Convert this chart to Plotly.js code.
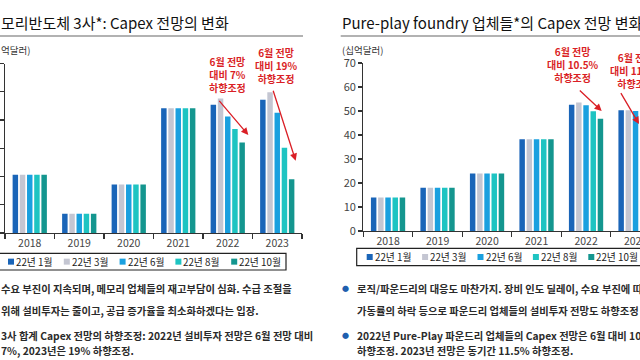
<!DOCTYPE html>
<html><head><meta charset="utf-8">
<script src="https://cdn.plot.ly/plotly-3.0.1.min.js"></script>
<style>html,body{margin:0;padding:0;background:#fff;}#chart{width:640px;height:360px;}</style>
</head><body><div id="chart"></div>
<script>
// ---- data ----
const years = ['2018','2019','2020','2021','2022','2023'];
const seriesNames = ['22년 1월','22년 3월','22년 6월','22년 8월','22년 10월'];
// memory 3 companies capex (십억달러)
const memJan = [50.3, 43.4, 48.6, 62.1, 62.7, 63.6];
const memMar = [50.3, 43.4, 48.6, 62.1, 63.8, 64.9];
const memJun = [50.3, 43.4, 48.6, 62.1, 60.6, 61.3];
const memAug = [50.3, 43.4, 48.6, 62.1, 58.4, 55.1];
const memOct = [50.3, 43.4, 48.6, 62.1, 56.0, 49.5];
// pure-play foundry capex (십억달러)
const fdyJan = [14.0, 18.0, 24.0, 38.2, 52.6, 50.3];
const fdyMar = [14.0, 18.0, 24.0, 38.2, 53.5, 50.3];
const fdyJun = [14.0, 18.0, 24.0, 38.2, 52.4, 50.0];
const fdyAug = [14.0, 18.0, 24.0, 38.2, 49.9, 47.0];
const fdyOct = [14.0, 18.0, 24.0, 38.2, 46.8, 44.3];
const memTicks = [40, 45, 50, 55, 60, 65, 70];
const fdyTicks = [0, 10, 20, 30, 40, 50, 60, 70];

const leftTitle = '모리반도체 3사*: Capex 전망의 변화';
const rightTitle = 'Pure-play foundry 업체들*의 Capex 전망 변화';
const leftUnit = '억달러)';
const rightUnit = '(십억달러)';
const leftNotes = ['6월 전망<br>대비 7%<br>하향조정', '6월 전망<br>대비 19%<br>하향조정'];
const rightNotes = ['6월 전망<br>대비 10.5%<br>하향조정', '6월 전망<br>대비 11.5%<br>하향조정'];
const leftBody = [
  '수요 부진이 지속되며, 메모리 업체들의 재고부담이 심화. 수급 조절을',
  '위해 설비투자는 줄이고, 공급 증가율을 최소화하겠다는 입장.',
  '3사 합계 Capex 전망의 하향조정: 2022년 설비투자 전망은 6월 전망 대비',
  '7%, 2023년은 19% 하향조정.'
];
const rightBody = [
  '로직/파운드리의 대응도 마찬가지. 장비 인도 딜레이, 수요 부진에 따른',
  '가동률의 하락 등으로 파운드리 업체들의 설비투자 전망도 하향조정',
  '2022년 Pure-Play 파운드리 업체들의 Capex 전망은 6월 대비 10.5%',
  '하향조정. 2023년 전망은 동기간 11.5% 하향조정.'
];

// ---- style ----
const colors = ['#1A65B8', '#C4C6D2', '#1AA0DF', '#1EC4C2', '#14968F'];
const RED = '#DA1F26';
const FONT = '"Noto Sans CJK KR", "Noto Sans", sans-serif';
const W = 640, H = 360;
const px = v => v / W, py = v => 1 - v / H;

const memSeries = [memJan, memMar, memJun, memAug, memOct];
const fdySeries = [fdyJan, fdyMar, fdyJun, fdyAug, fdyOct];

const traces = [];
seriesNames.forEach((name, i) => traces.push({
  type: 'bar', name, x: years, y: memSeries[i], xaxis: 'x', yaxis: 'y',
  marker: {color: colors[i]}, showlegend: false, hoverinfo: 'skip'
}));
seriesNames.forEach((name, i) => traces.push({
  type: 'bar', name, x: years, y: fdySeries[i], xaxis: 'x2', yaxis: 'y2',
  marker: {color: colors[i]}, showlegend: false, hoverinfo: 'skip'
}));

const axisCommon = {
  showline: true, linecolor: '#333', linewidth: 1.2, ticks: 'outside', tickcolor: '#333',
  tickwidth: 1.2, showgrid: false, zeroline: false, automargin: false, fixedrange: true
};
const xCommon = Object.assign({}, axisCommon, {
  type: 'category', tickson: 'boundaries', ticklen: 5,
  tickfont: {family: FONT, size: 10.5, color: '#444'}
});

const ann = [];
const shapes = [];
function txt(text, x, y, opts) {
  ann.push(Object.assign({xref: 'paper', yref: 'paper', x: px(x), y: py(y), text, showarrow: false,
    xanchor: 'left', yanchor: 'middle', borderpad: 0, font: {family: FONT, size: 10, color: '#222'}}, opts || {}));
}
function arrow(x0, y0, x1, y1) {
  ann.push({xref: 'paper', yref: 'paper', x: px(x1), y: py(y1), ax: x0 - x1, ay: y0 - y1,
    axref: 'pixel', ayref: 'pixel', text: '', showarrow: true, arrowhead: 2, arrowsize: 1.1,
    arrowwidth: 1.3, arrowcolor: RED, standoff: 0, startstandoff: 0});
}
// titles
txt(leftTitle, 0, 22, {font: {family: FONT, size: 15, color: '#111'}});
txt(rightTitle, 341, 22, {font: {family: FONT, size: 15, color: '#111'}});
shapes.push({type: 'line', xref: 'paper', yref: 'paper', x0: px(-2), x1: px(303), y0: py(36), y1: py(36), line: {color: '#999', width: 1.5}});
shapes.push({type: 'line', xref: 'paper', yref: 'paper', x0: px(340.7), x1: px(645), y0: py(36), y1: py(36), line: {color: '#999', width: 1.5}});
// units
txt(leftUnit, 0, 50, {font: {family: FONT, size: 9.5, color: '#333'}});
txt(rightUnit, 341, 50, {font: {family: FONT, size: 9.5, color: '#333'}});
// red notes
const noteFont = {family: FONT, size: 10, color: RED, weight: 'bold'};
txt(leftNotes[0], 227, 74.5, {xanchor: 'center', font: noteFont});
txt(leftNotes[1], 276, 65.5, {xanchor: 'center', font: noteFont});
txt(rightNotes[0], 573.3, 64, {xanchor: 'center', font: noteFont});
txt(rightNotes[1], 636, 71, {xanchor: 'center', font: noteFont});
arrow(218, 99.3, 248.3, 135);
arrow(272.7, 89.3, 295.7, 160.7);
arrow(578.3, 89, 601.7, 111);
arrow(620, 91.7, 662, 124);
// body text
const bodyFont = {family: FONT, size: 10.3, color: '#2a2a2a', weight: 'bold'};
const bodyY = [288.3, 310, 335, 350.7];
leftBody.forEach((t, i) => txt(t, 0, bodyY[i], {font: bodyFont}));
rightBody.forEach((t, i) => txt(t, 356, bodyY[i], {font: bodyFont}));
txt('●', 345, bodyY[0], {xanchor: 'center', font: {family: FONT, size: 7, color: '#1F5FAE'}});
txt('●', 345, bodyY[2], {xanchor: 'center', font: {family: FONT, size: 7, color: '#1F5FAE'}});
// legends
function legend(boxX0, boxX1, boxY0, boxY1, firstX, step) {
  shapes.push({type: 'rect', xref: 'paper', yref: 'paper', x0: px(boxX0), x1: px(boxX1), y0: py(boxY1), y1: py(boxY0),
    line: {color: '#222', width: 1.2}, fillcolor: 'rgba(0,0,0,0)'});
  const cy = (boxY0 + boxY1) / 2;
  seriesNames.forEach((name, i) => {
    const mx = firstX + i * step;
    shapes.push({type: 'rect', xref: 'paper', yref: 'paper', x0: px(mx), x1: px(mx + 6), y0: py(cy + 3), y1: py(cy - 3),
      line: {width: 0}, fillcolor: colors[i]});
    txt(name, mx + 7, cy, {font: {family: FONT, size: 9.8, color: '#222'}});
  });
}
legend(-2, 286, 253.3, 270, 8, 55.8);
legend(356.7, 700, 248.3, 265.7, 366.7, 55.4);

const layout = {
  width: W, height: H, margin: {l: 0, r: 0, t: 0, b: 0},
  paper_bgcolor: '#fff', plot_bgcolor: 'rgba(0,0,0,0)',
  barmode: 'group', bargap: 0.273, bargroupgap: 0.24,
  font: {family: FONT},
  xaxis: Object.assign({}, xCommon, {domain: [px(5), px(302)], anchor: 'y', range: [-0.5, 5.5]}),
  yaxis: Object.assign({}, axisCommon, {domain: [py(233), py(63.5)], anchor: 'x', range: [40, 70],
    tickvals: memTicks, ticklen: 4, showticklabels: false}),
  xaxis2: Object.assign({}, xCommon, {domain: [px(363.3), 1], anchor: 'y2', range: [-0.5, 5.09]}),
  yaxis2: Object.assign({}, axisCommon, {domain: [py(231), py(63)], anchor: 'x2', range: [0, 70],
    tickvals: fdyTicks, ticklen: 4, tickfont: {family: FONT, size: 11, color: '#444'}}),
  annotations: ann, shapes: shapes, showlegend: false
};
Plotly.newPlot('chart', traces, layout, {displayModeBar: false, staticPlot: true});
</script></body></html>
